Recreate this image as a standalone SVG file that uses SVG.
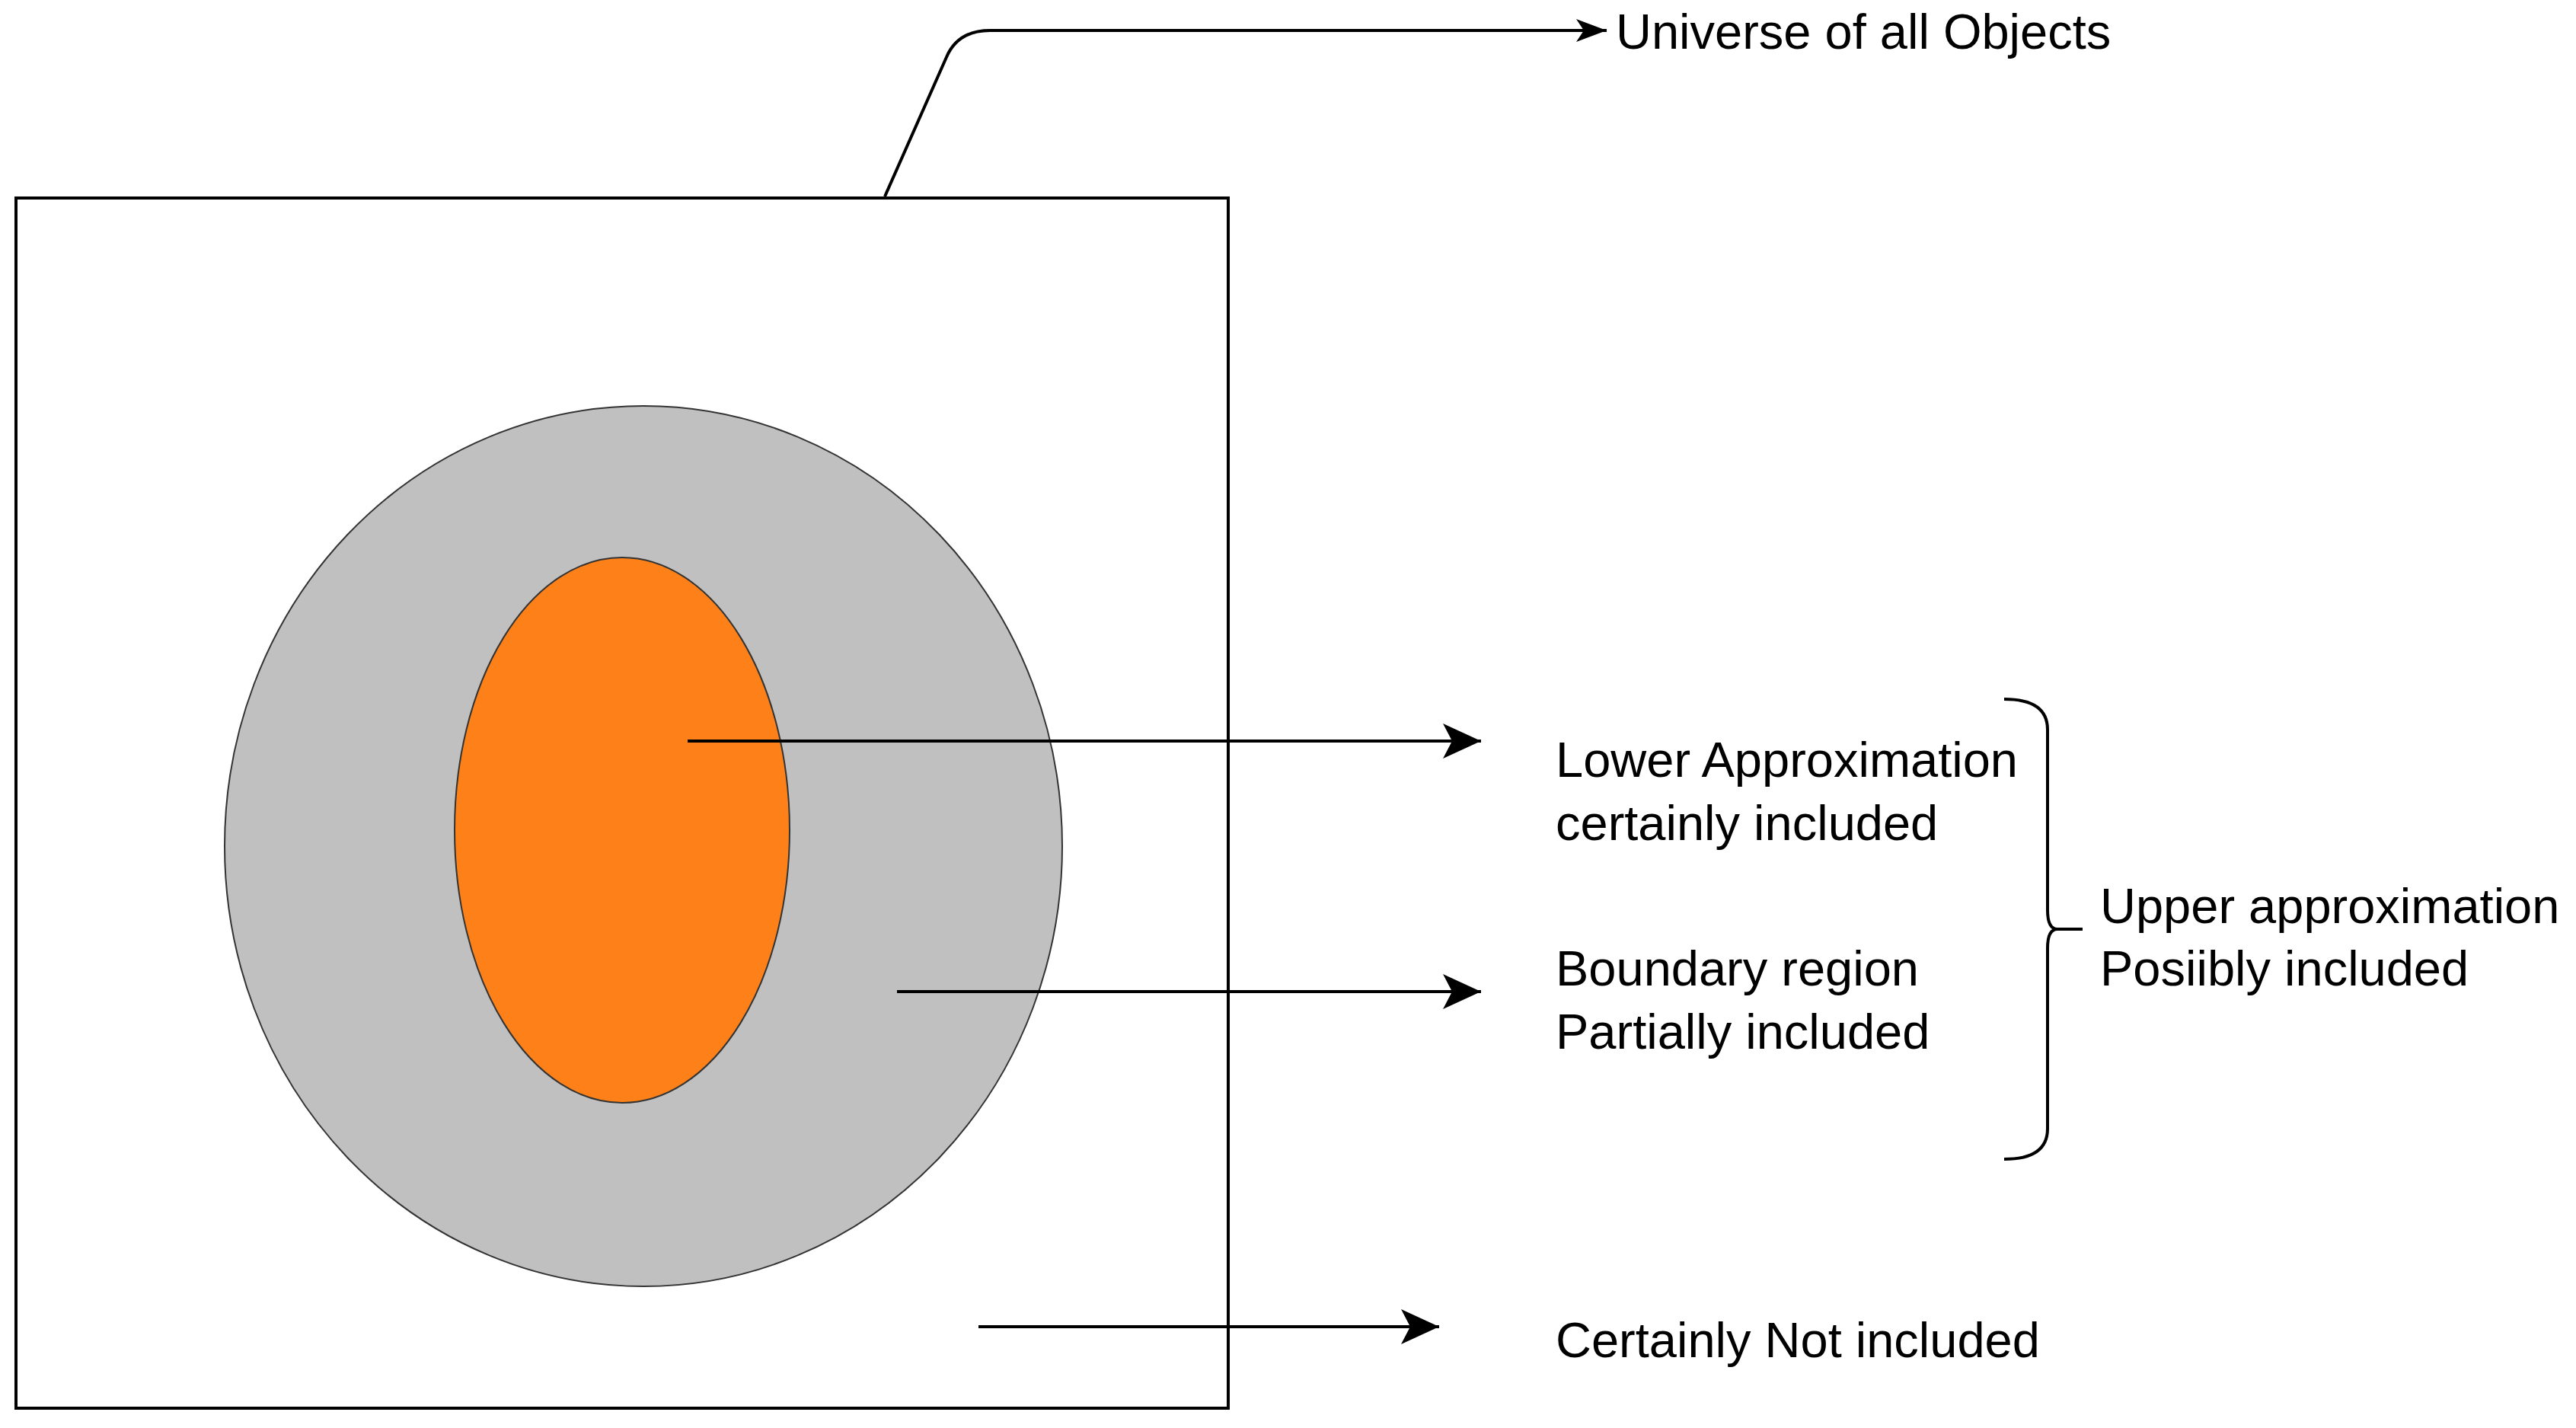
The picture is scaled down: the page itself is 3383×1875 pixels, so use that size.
<svg xmlns="http://www.w3.org/2000/svg" width="3383" height="1875" viewBox="0 0 3383 1875">
  <style>
    .lbl { font-family: "Liberation Sans", Arial, sans-serif; font-size: 65px; fill: #000; }
    .line { fill: none; stroke: #000; stroke-width: 4; }
  </style>
  <defs>
    <marker id="arrow" markerUnits="userSpaceOnUse" markerWidth="60" markerHeight="60" viewBox="-55 -30 60 60" refX="0" refY="0" orient="auto">
      <path d="M0,0 L-50,-23 L-38,0 L-50,23 Z" fill="#000"/>
    </marker>
    <marker id="arrowSmall" markerUnits="userSpaceOnUse" markerWidth="50" markerHeight="40" viewBox="-45 -20 50 40" refX="0" refY="0" orient="auto">
      <path d="M0,0 L-40,-15 L-30,0 L-40,15 Z" fill="#000"/>
    </marker>
  </defs>
  <rect width="3383" height="1875" fill="#fff"/>

  <g id="universe">
    <rect x="21" y="260" width="1592" height="1589" fill="#fff" stroke="#000" stroke-width="4"/>
  </g>
  <g id="upper">
    <ellipse cx="845" cy="1111" rx="550" ry="578" fill="#C0C0C0" stroke="#333" stroke-width="2"/>
  </g>
  <g id="lower">
    <ellipse cx="817" cy="1090" rx="220" ry="358" fill="#FD8118" stroke="#333" stroke-width="2"/>
  </g>

  <g id="connectors">
    <path class="line" d="M1162,258 L1243,75 Q1258,40 1300,40 L2110,40" marker-end="url(#arrowSmall)"/>
    <path class="line" d="M903,973 L1945,973" marker-end="url(#arrow)"/>
    <path class="line" d="M1178,1302 L1945,1302" marker-end="url(#arrow)"/>
    <path class="line" d="M1285,1742 L1890,1742" marker-end="url(#arrow)"/>
  </g>

  <g id="brace">
    <path class="line" d="M2632,918 Q2689,918 2689,958 L2689,1195 Q2689,1220 2702,1220 L2735,1220 M2702,1220 Q2689,1220 2689,1245 L2689,1482 Q2689,1522 2632,1522"/>
  </g>

  <g id="label-universe">
    <text class="lbl" x="2122" y="64">Universe of all Objects</text>
  </g>
  <g id="label-lower">
    <text class="lbl" x="2043" y="1020">Lower Approximation</text>
    <text class="lbl" x="2043" y="1103">certainly included</text>
  </g>
  <g id="label-boundary">
    <text class="lbl" x="2043" y="1294">Boundary region</text>
    <text class="lbl" x="2043" y="1377">Partially included</text>
  </g>
  <g id="label-upper">
    <text class="lbl" x="2758" y="1212">Upper approximation</text>
    <text class="lbl" x="2758" y="1294">Posiibly included</text>
  </g>
  <g id="label-not">
    <text class="lbl" x="2043" y="1782">Certainly Not included</text>
  </g>
</svg>
